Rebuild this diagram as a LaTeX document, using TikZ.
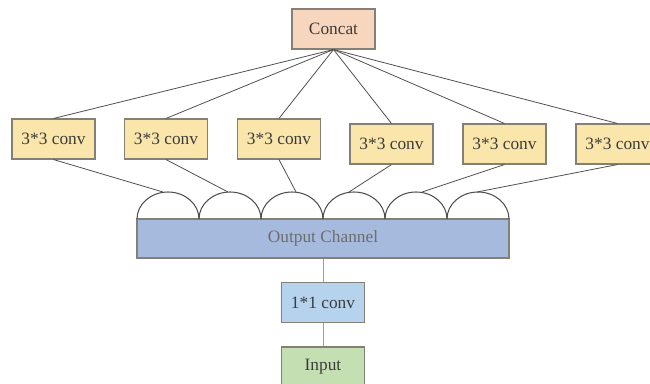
\documentclass[tikz,border=0pt]{standalone}
\usepackage{fontspec}
\setmainfont{Liberation Serif}
\definecolor{boxline}{HTML}{858075}
\definecolor{wire}{HTML}{505050}
\definecolor{txt}{HTML}{3C3C3C}
\definecolor{concatfill}{HTML}{F8D5BD}
\definecolor{convfill}{HTML}{FAE5AA}
\definecolor{outfill}{HTML}{A6BADD}
\definecolor{onefill}{HTML}{B5D3ED}
\definecolor{infill}{HTML}{C4DFB2}
\begin{document}
\begin{tikzpicture}
  [x=0.75pt,y=-0.75pt,
   every node/.style={draw=boxline,line width=0.8pt,minimum width=62.25pt,minimum height=30pt,inner sep=0pt,text=txt,font=\fontsize{13}{15}\selectfont},
   conv/.style={fill=convfill},
   edge/.style={draw=wire,line width=0.6pt}]
  \useasboundingbox (0,0) rectangle (650,383);

  \node (concat)[fill=concatfill] at (333.5,29) {Concat};
  \node (c1)[conv] at (53.5,139)  {3*3 conv};
  \node (c2)[conv] at (166,139)   {3*3 conv};
  \node (c3)[conv] at (279,139)   {3*3 conv};
  \node (c4)[conv] at (391.5,144) {3*3 conv};
  \node (c5)[conv] at (504.5,144) {3*3 conv};
  \node (c6)[conv] at (617.5,144) {3*3 conv};
  \node (out)[fill=outfill,minimum width=279pt,minimum height=29.25pt,text=txt!75] at (323,238.5) {Output Channel};
  \node (k1)[fill=onefill] at (323,302.5) {1*1 conv};
  \node (in)[fill=infill] at (323,367) {Input};

  % channel groups on top of the output
  \foreach \i in {0,...,5}
    \draw[edge,line width=0.8pt] (137+62*\i,219) arc (180:0:23.25pt and 20.25pt);

  \coordinate (a1) at (163,192);
  \coordinate (a2) at (228,192);
  \coordinate (a3) at (296,192);
  \coordinate (a4) at (349,192);
  \coordinate (a5) at (422,192);
  \coordinate (a6) at (477,192);

  \foreach \i in {1,...,6}
    \draw[edge] (concat.south) -- (c\i.north);
  \foreach \i in {1,...,6}
    \draw[edge] (c\i.south) -- (a\i);

  \draw[edge,draw=wire!55] (out.south) -- (k1.north);
  \draw[edge,draw=wire!55] (k1.south) -- (in.north);

\end{tikzpicture}
\end{document}
